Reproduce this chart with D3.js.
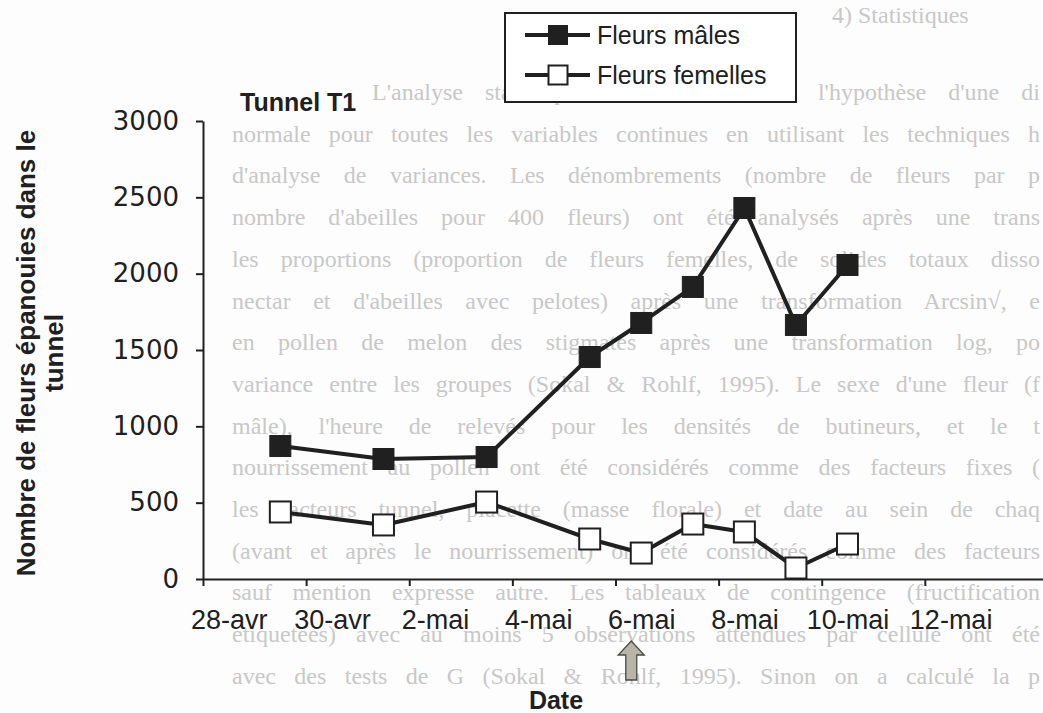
<!DOCTYPE html>
<html>
<head>
<meta charset="utf-8">
<script src="https://cdn.jsdelivr.net/npm/d3@7"></script>
<style>
  body { margin: 0; background: #fdfdfd; }
  svg { display: block; }
</style>
</head>
<body>
<div id="chart"></div>
<script>
const obsDates = ["2009-04-29", "2009-05-01", "2009-05-03", "2009-05-05", "2009-05-06",
                  "2009-05-07", "2009-05-08", "2009-05-09", "2009-05-10"];
const maleFlowers = [871, 786, 799, 1454, 1677, 1913, 2430, 1664, 2057];
const femaleFlowers = [439, 354, 504, 262, 170, 360, 308, 72, 229];

const yTicks = [0, 500, 1000, 1500, 2000, 2500, 3000];
const tickDates = ["2009-04-28", "2009-04-30", "2009-05-02", "2009-05-04",
                   "2009-05-06", "2009-05-08", "2009-05-10", "2009-05-12"];
const tickLabels = ["28-avr", "30-avr", "2-mai", "4-mai", "6-mai", "8-mai", "10-mai", "12-mai"];
const feedingDate = "2009-05-06"; // arrow under the axis

const seriesNames = ["Fleurs mâles", "Fleurs femelles"];

// faint text of the scanned page behind the figure
const pageHeading = "4) Statistiques";
const pageLines = [
    "L'analyse statistique a été faite dans l'hypothèse d'une di",
    "normale pour toutes les variables continues en utilisant les techniques h",
    "d'analyse de variances. Les dénombrements (nombre de fleurs par p",
    "nombre d'abeilles pour 400 fleurs) ont été analysés après une trans",
    "les proportions (proportion de fleurs femelles, de solides totaux disso",
    "nectar et d'abeilles avec pelotes) après une transformation Arcsin√, e",
    "en pollen de melon des stigmates après une transformation log, po",
    "variance entre les groupes (Sokal & Rohlf, 1995). Le sexe d'une fleur (f",
    "mâle), l'heure de relevés pour les densités de butineurs, et le t",
    "nourrissement au pollen ont été considérés comme des facteurs fixes (",
    "les facteurs tunnel, placette (masse florale) et date au sein de chaq",
    "(avant et après le nourrissement) ont été considérés comme des facteurs",
    "sauf mention expresse autre. Les tableaux de contingence (fructification",
    "étiquetées) avec au moins 5 observations attendues par cellule ont été",
    "avec des tests de G (Sokal & Rohlf, 1995). Sinon on a calculé la p"
];

const width = 1043, height = 713;
const ink = "#202020";
const parse = d3.timeParse("%Y-%m-%d");
const noon = d => d3.timeHour.offset(parse(d), 12);

const svg = d3.select("#chart").append("svg")
    .attr("width", width)
    .attr("height", height)
    .attr("viewBox", `0 0 ${width} ${height}`);

svg.append("rect").attr("width", width).attr("height", height).attr("fill", "#fdfdfd");

// background page text, justified by stretching the word gaps
const pageG = svg.append("g")
    .attr("font-family", "'Liberation Serif', 'DejaVu Serif', serif")
    .attr("font-size", 24)
    .attr("fill", "#c8c8c8");

pageG.append("text").attr("x", 832).attr("y", 23).text(pageHeading);

pageG.selectAll("text.line")
    .data(pageLines)
    .join("text")
    .attr("class", "line")
    .attr("x", (d, i) => i === 0 ? 372 : 232)
    .attr("y", (d, i) => 100 + i * 41.7)
    .text(d => d)
    .each(function(d, i) {
        const target = i === 0 ? 668 : 808;
        const gaps = d.split(" ").length - 1;
        const natural = this.getComputedTextLength();
        if (gaps > 0) d3.select(this).attr("word-spacing", Math.max(0, (target - natural) / gaps));
    });

// scales
const dayWidth = 51.55;
const x0 = 203;
const start = parse(tickDates[0]);
const xScale = d3.scaleTime()
    .domain([start, d3.timeHour.offset(start, Math.round((width - x0) / dayWidth * 24))])
    .range([x0, width]);

const yScale = d3.scaleLinear()
    .domain([0, 3000])
    .range([579, 121]);

// axes
const yAxis = d3.axisLeft(yScale)
    .tickValues(yTicks)
    .tickFormat(d3.format("d"))
    .tickSize(7)
    .tickSizeOuter(0)
    .tickPadding(17);

const yG = svg.append("g")
    .attr("transform", `translate(${x0},0)`)
    .call(yAxis);
yG.selectAll("path, line").attr("stroke", ink).attr("stroke-width", 2);
yG.selectAll("text")
    .attr("font-family", "'DejaVu Sans', Verdana, sans-serif")
    .attr("font-size", 26)
    .attr("fill", ink);

const xAxis = d3.axisBottom(xScale)
    .tickValues(tickDates.map(parse))
    .tickFormat((d, i) => tickLabels[i])
    .tickSize(7)
    .tickSizeOuter(0)
    .tickPadding(24);

const xG = svg.append("g")
    .attr("transform", `translate(0,${yScale(0)})`)
    .call(xAxis);
xG.selectAll("path, line").attr("stroke", ink).attr("stroke-width", 2);
// labels sit in the middle of their day, ticks at its start
xG.selectAll("text")
    .attr("x", dayWidth / 2)
    .attr("font-family", "'Liberation Sans', Arial, sans-serif")
    .attr("font-size", 27)
    .attr("fill", ink);

// series
const line = d3.line()
    .x(d => xScale(noon(d.date)))
    .y(d => yScale(d.value));

const series = [maleFlowers, femaleFlowers].map((vals, k) => ({
    name: seriesNames[k],
    filled: k === 0,
    points: vals.map((v, i) => ({ date: obsDates[i], value: v }))
}));

const markSize = 21;

series.forEach(s => {
    svg.append("path")
        .datum(s.points)
        .attr("d", line)
        .attr("fill", "none")
        .attr("stroke", ink)
        .attr("stroke-width", 4)
        .attr("stroke-linejoin", "round");

    svg.append("g")
        .selectAll("rect")
        .data(s.points)
        .join("rect")
        .attr("x", d => xScale(noon(d.date)) - markSize / 2)
        .attr("y", d => yScale(d.value) - markSize / 2)
        .attr("width", markSize)
        .attr("height", markSize)
        .attr("fill", s.filled ? ink : "#ffffff")
        .attr("stroke", ink)
        .attr("stroke-width", s.filled ? 1 : 2);
});

// feeding arrow below the 6-mai label
const ax = xScale(noon(feedingDate)) - 10;
const arrowPts = [[0, 0], [13, 14], [5.5, 14], [5.5, 39], [-5.5, 39], [-5.5, 14], [-13, 14]];
svg.append("path")
    .attr("d", d3.line()(arrowPts.map(p => [ax + p[0], 641 + p[1]])) + "Z")
    .attr("fill", "#b9b5a6")
    .attr("stroke", "#4a4a4a")
    .attr("stroke-width", 1.3);

// titles
svg.append("text")
    .attr("x", 240).attr("y", 111)
    .attr("font-family", "'Liberation Sans', Arial, sans-serif")
    .attr("font-weight", "bold")
    .attr("font-size", 25)
    .attr("fill", ink)
    .text("Tunnel T1");

svg.append("text")
    .attr("x", 556).attr("y", 709)
    .attr("text-anchor", "middle")
    .attr("font-family", "'Liberation Sans', Arial, sans-serif")
    .attr("font-weight", "bold")
    .attr("font-size", 25)
    .attr("fill", ink)
    .text("Date");

const yTitle = svg.append("text")
    .attr("transform", "translate(0,353) rotate(-90)")
    .attr("text-anchor", "middle")
    .attr("font-family", "'Liberation Sans', Arial, sans-serif")
    .attr("font-weight", "bold")
    .attr("font-size", 26)
    .attr("fill", ink);
yTitle.append("tspan").attr("x", 0).attr("y", 35).text("Nombre de fleurs épanouies dans le");
yTitle.append("tspan").attr("x", 0).attr("y", 63).text("tunnel");

// legend
const legend = svg.append("g");
legend.append("rect")
    .attr("x", 505).attr("y", 13)
    .attr("width", 291).attr("height", 89)
    .attr("fill", "#ffffff")
    .attr("stroke", ink)
    .attr("stroke-width", 2);

const legendRows = legend.selectAll("g.row")
    .data(series)
    .join("g")
    .attr("class", "row")
    .attr("transform", (d, i) => `translate(0,${35 + i * 40})`);

legendRows.append("line")
    .attr("x1", 525).attr("x2", 590)
    .attr("stroke", ink).attr("stroke-width", 4);

legendRows.append("rect")
    .attr("x", 558 - 9.5).attr("y", -9.5)
    .attr("width", 19).attr("height", 19)
    .attr("fill", d => d.filled ? ink : "#ffffff")
    .attr("stroke", ink)
    .attr("stroke-width", d => d.filled ? 1 : 2);

legendRows.append("text")
    .attr("x", 597).attr("y", 9)
    .attr("font-family", "'Liberation Sans', Arial, sans-serif")
    .attr("font-size", 25)
    .attr("fill", ink)
    .text(d => d.name);
</script>
</body>
</html>
